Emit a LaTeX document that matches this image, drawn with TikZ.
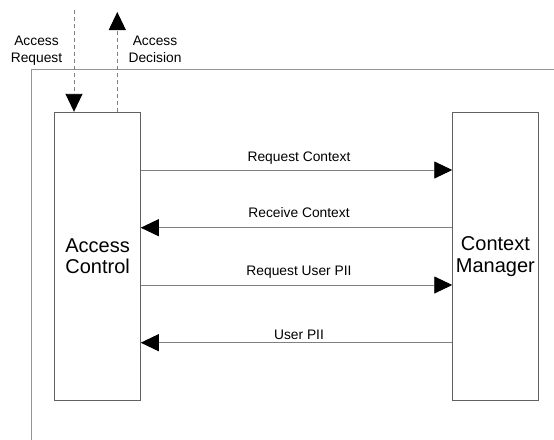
\documentclass[tikz,border=0pt]{standalone}
\usepackage{fontspec}
\setmainfont{Liberation Sans}
\usetikzlibrary{arrows.meta}
\begin{document}
\begin{tikzpicture}[x=1pt,y=-1pt,
  frame/.style={draw=black!42, line width=1pt},
  party/.style={draw=black!62, line width=1pt, minimum width=85.3pt,
    minimum height=288pt, inner sep=0pt, align=center,
    font=\fontsize{20}{21.6}\selectfont},
  msg/.style={draw=black!50, line width=0.9pt,
    -{Triangle[length=18pt,width=17pt,color=black]}},
  flow/.style={msg, dash pattern=on 4pt off 3pt},
  lbl/.style={font=\fontsize{13.8}{16.3}\selectfont, align=center,
    inner sep=0pt, anchor=base},
]
\useasboundingbox (0,0) rectangle (554,439);

% enclosing system boundary (open to the right and bottom)
\draw[frame] (555,69) -- (31,69) -- (31,440);

% the two parties
\node[party] (ac) at (97.6,256.3) {Access\\Control};
\node[party] (cm) at (495.4,256.3) {Context\\Manager};

% external request / decision
\coordinate (reqsrc) at (74,10);
\coordinate (decdst) at (117.3,12);
\draw[flow] (reqsrc) -- (ac.north -| reqsrc);
\draw[flow] (ac.north -| decdst) -- (decdst);
\node[lbl] (reqlbl) at (36.5,62) {Access\\Request};
\node[lbl] (declbl) at (155,62) {Access\\Decision};

% message exchange
\draw[msg] (ac.east |- 0,170) -- (cm.west |- 0,170);
\draw[msg] (cm.west |- 0,227.7) -- (ac.east |- 0,227.7);
\draw[msg] (ac.east |- 0,285) -- (cm.west |- 0,285);
\draw[msg] (cm.west |- 0,342.7) -- (ac.east |- 0,342.7);

\node[lbl] (m1) at (299,161) {Request Context};
\node[lbl] (m2) at (299,217.3) {Receive Context};
\node[lbl] (m3) at (299,275) {Request User PII};
\node[lbl] (m4) at (299,339.3) {User PII};
\end{tikzpicture}
\end{document}
